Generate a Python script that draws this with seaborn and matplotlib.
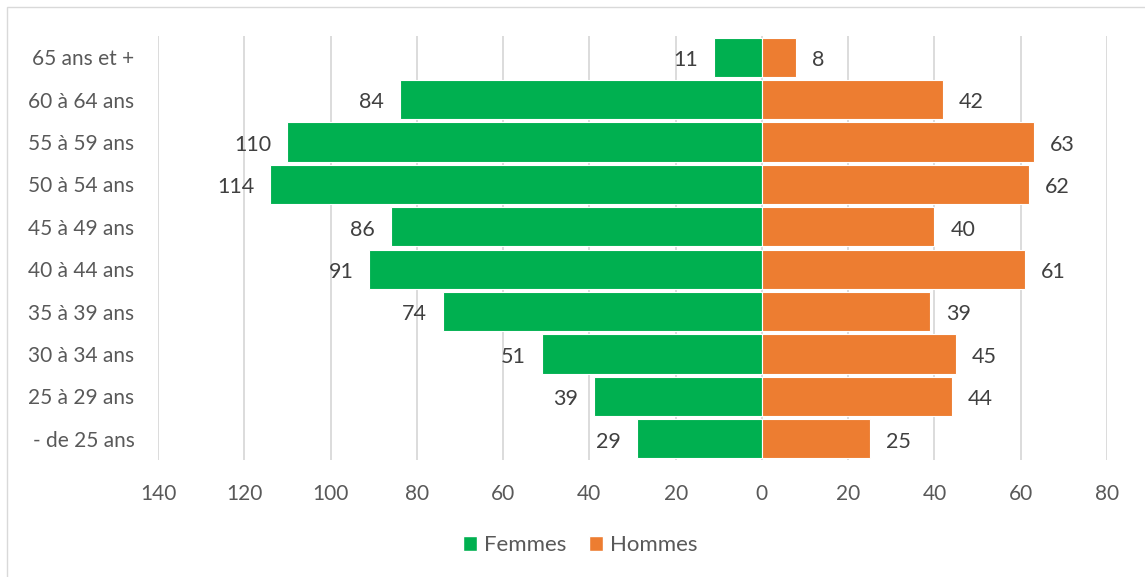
import matplotlib
matplotlib.use("Agg")
import matplotlib.pyplot as plt
import seaborn as sns
import pandas as pd
from matplotlib.patches import Patch, Rectangle

categories = ["65 ans et +", "60 à 64 ans", "55 à 59 ans", "50 à 54 ans", "45 à 49 ans",
              "40 à 44 ans", "35 à 39 ans", "30 à 34 ans", "25 à 29 ans", "- de 25 ans"]
femmes = [11, 84, 110, 114, 86, 91, 74, 51, 39, 29]
hommes = [8, 42, 63, 62, 40, 61, 39, 45, 44, 25]
xticks = [-140, -120, -100, -80, -60, -40, -20, 0, 20, 40, 60, 80]

GREEN = "#00B050"
ORANGE = "#ED7D31"
TXT = "#595959"

sns.set_theme(style="white")
plt.rcParams["font.family"] = ["Lato", "DejaVu Sans"]

fig = plt.figure(figsize=(11.45, 5.77), dpi=100)
ax = fig.add_axes([158/1145, 1-460/577, (1107-158)/1145, (460-36)/577])

df_f = pd.DataFrame({"cat": categories, "val": [-v for v in femmes]})
df_h = pd.DataFrame({"cat": categories, "val": hommes})

sns.barplot(data=df_f, x="val", y="cat", orient="h", color=GREEN, saturation=1,
            width=0.92, edgecolor="white", linewidth=0.8, ax=ax, order=categories)
sns.barplot(data=df_h, x="val", y="cat", orient="h", color=ORANGE, saturation=1,
            width=0.92, edgecolor="white", linewidth=0.8, ax=ax, order=categories)

c_f, c_h = ax.containers[0], ax.containers[1]
lf = ax.bar_label(c_f, labels=[str(v) for v in femmes], padding=11.5, fontsize=15.5, color="#404040")
lh = ax.bar_label(c_h, labels=[str(v) for v in hommes], padding=11.5, fontsize=15.5, color="#404040")
for t in list(lf) + list(lh):
    x, y = t.xyann
    t.xyann = (x, y - 2)

ax.set_xlim(-140, 80)
ax.set_ylim(9.5, -0.5)
ax.set_xticks(xticks)
ax.set_xticklabels([str(abs(t)) for t in xticks], fontsize=15, color=TXT)
ax.tick_params(axis="y", labelsize=15, labelcolor=TXT, length=0, pad=17)
ax.tick_params(axis="x", length=0, pad=17)
ax.set_xlabel("")
ax.set_ylabel("")
ax.xaxis.grid(True, color="#D9D9D9", linewidth=1.3)
ax.set_axisbelow(True)
for s in ax.spines.values():
    s.set_visible(False)

handles = [Patch(facecolor=GREEN, label="Femmes"), Patch(facecolor=ORANGE, label="Hommes")]
fig.legend(handles=handles, loc="center", bbox_to_anchor=(580/1145, 1-545/577), ncol=2,
           frameon=False, fontsize=16, labelcolor=TXT, handlelength=0.65, handleheight=0.65,
           handletextpad=0.3, columnspacing=1.0)

fig.add_artist(Rectangle((7/1145, -0.05), 1.2, 1-7/577+0.05, transform=fig.transFigure,
                         fill=False, edgecolor="#D9D9D9", linewidth=1))

fig.savefig("out.png", dpi=100)
